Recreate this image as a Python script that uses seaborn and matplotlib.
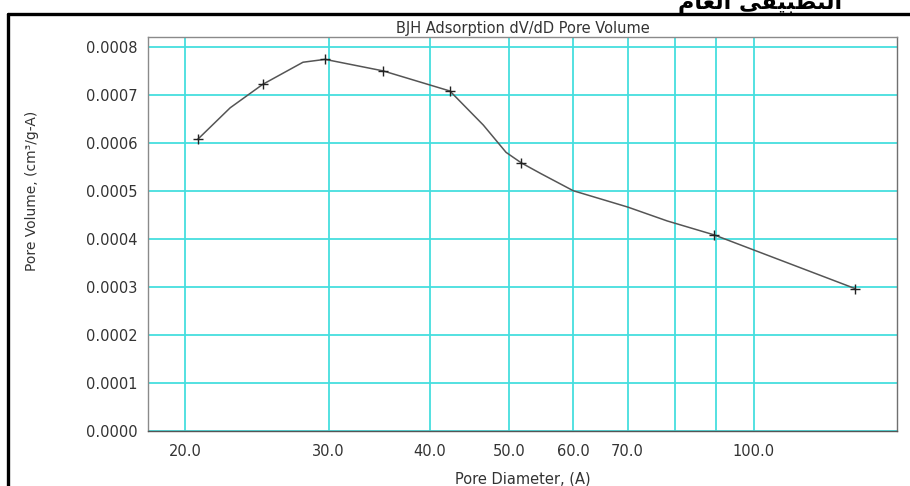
import matplotlib
matplotlib.use("Agg")
import matplotlib.pyplot as plt
import seaborn as sns
import pandas as pd
from matplotlib.lines import Line2D

# ---------------- data ----------------
# marked data points (pore diameter in A, dV/dD pore volume)
marker_diam = [20.7, 24.9, 29.7, 35.0, 42.3, 51.8, 89.4, 133.3]
marker_vol = [0.000607, 0.000722, 0.000774, 0.000750, 0.000708, 0.000558, 0.000408, 0.000296]

# curve points (includes the marked points)
curve_diam = [20.7, 22.7, 24.9, 27.9, 29.7, 35.0, 42.3, 46.5, 49.6, 51.8,
              54.7, 60.0, 66.0, 70.0, 78.3, 89.4, 133.3]
curve_vol = [0.000607, 0.000673, 0.000722, 0.000768, 0.000774, 0.000750, 0.000708,
             0.000637, 0.000580, 0.000558, 0.000536, 0.000500, 0.000479, 0.000466,
             0.000437, 0.000408, 0.000296]

x_ticks = [20, 30, 40, 50, 60, 70, 80, 90, 100]
x_tick_labels = ["20.0", "30.0", "40.0", "50.0", "60.0", "70.0", "", "", "100.0"]
y_ticks = [0.0, 0.0001, 0.0002, 0.0003, 0.0004, 0.0005, 0.0006, 0.0007, 0.0008]
y_tick_labels = ["0.0000", "0.0001", "0.0002", "0.0003", "0.0004",
                 "0.0005", "0.0006", "0.0007", "0.0008"]

title_text = "BJH Adsorption dV/dD Pore Volume"
x_label = "Pore Diameter, (A)"
y_label = "Pore Volume, (cm³/g-A)"
# Arabic header (pre-shaped presentation forms in visual order)
header_text = "\uFEE1\uFE8E\uFECC\uFEDF\uFE8D \uFEF2\uFED8\uFEF4\uFE92\uFEC4\uFE98\uFEDF\uFE8D"

# ---------------- style ----------------
sns.set_theme(style="white")
plt.rcParams["font.family"] = ["DejaVu Sans"]
text_color = "#333333"
grid_color = "#45dede"

W, H = 910, 486
fig = plt.figure(figsize=(W / 100, H / 100), dpi=100)
fig.patch.set_facecolor("white")

left, right, top, bottom = 148.3, 896.7, 37.3, 430.5
ax = fig.add_axes([left / W, 1 - bottom / H, (right - left) / W, (bottom - top) / H])
ax.set_facecolor("white")

curve_df = pd.DataFrame({"diam": curve_diam, "vol": curve_vol})
marker_df = pd.DataFrame({"diam": marker_diam, "vol": marker_vol})

sns.lineplot(data=curve_df, x="diam", y="vol", ax=ax, sort=False, estimator=None,
             color="#555555", linewidth=1.1, zorder=3)
sns.scatterplot(data=marker_df, x="diam", y="vol", ax=ax, marker="+", s=45,
                color="#222222", linewidth=1.0, zorder=4)

ax.set_xscale("log")
ax.set_xlim(18, 150)
ax.set_ylim(0, 0.00082)

ax.set_xticks(x_ticks)
ax.set_xticklabels(x_tick_labels)
ax.xaxis.set_minor_locator(matplotlib.ticker.NullLocator())
ax.set_yticks(y_ticks)
ax.set_yticklabels(y_tick_labels)

ax.grid(True, color=grid_color, linewidth=1.3, zorder=1)
ax.set_axisbelow(True)

ax.tick_params(axis="both", which="major", direction="out", length=6, width=1,
               color="#555555", labelcolor=text_color, labelsize=10.5)
ax.tick_params(axis="x", pad=4)
ax.tick_params(axis="y", pad=2)

for name, sp in ax.spines.items():
    sp.set_color("#8a8a8a")
    sp.set_linewidth(1.0)
ax.spines["bottom"].set_color("#555555")
ax.spines["right"].set_color("#707070")

ax.set_xlabel(x_label, fontsize=10.5, color=text_color)
ax.set_ylabel(y_label, fontsize=10, color=text_color)
ax.xaxis.set_label_coords(0.5, -0.104)
ax.yaxis.set_label_coords(-0.146, 0.609)
ax.set_title(title_text, fontsize=10.5, color=text_color, pad=3)

# frame lines around the page
fig.add_artist(Line2D([8 / W, 1.0], [1 - 14 / H, 1 - 14 / H], color="black", linewidth=2.4))
fig.add_artist(Line2D([8 / W, 8 / W], [0, 1 - 14 / H], color="black", linewidth=2.4))

# clipped Arabic header at the top (partly cut off by the page edge)
fig.text(760 / W, 1 - 8.5 / H, header_text, ha="center", va="baseline",
         fontsize=16, fontweight="bold", color="black", family=["DejaVu Sans"])

fig.savefig("out.png", dpi=100, facecolor="white")
